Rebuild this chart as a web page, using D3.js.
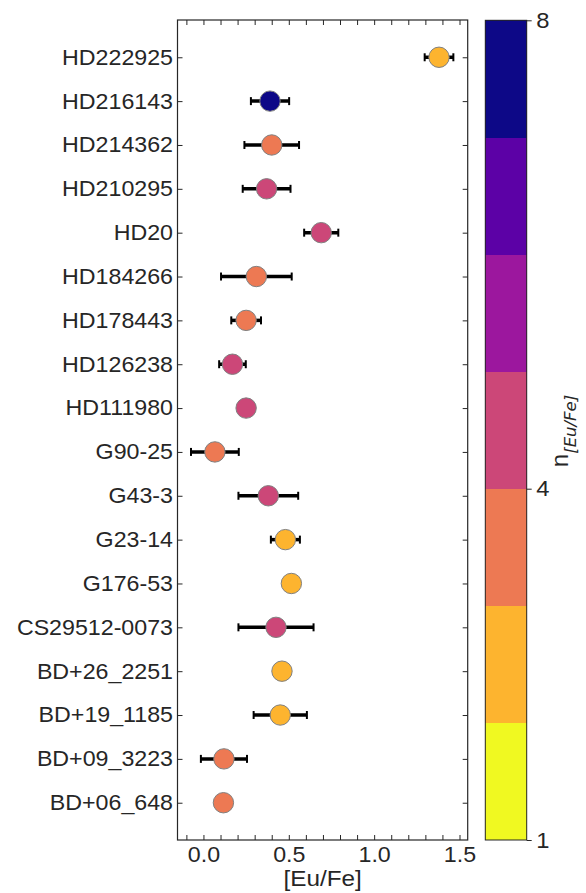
<!DOCTYPE html>
<html>
<head>
<meta charset="utf-8">
<script src="https://cdn.jsdelivr.net/npm/d3@7"></script>
<style>
  html, body { margin: 0; padding: 0; background: #fff; }
  svg { display: block; font-family: "Liberation Sans", Arial, sans-serif; }
</style>
</head>
<body>
<svg id="chart" width="586" height="893"></svg>
<script>
// ---------------- data ----------------
const stars = ["HD222925","HD216143","HD214362","HD210295","HD20","HD184266","HD178443","HD126238","HD111980","G90-25","G43-3","G23-14","G176-53","CS29512-0073","BD+26_2251","BD+19_1185","BD+09_3223","BD+06_648"];
const euFe  = [1.38, 0.39, 0.40, 0.37, 0.69, 0.31, 0.25, 0.17, 0.25, 0.067, 0.38, 0.48, 0.515, 0.425, 0.46, 0.45, 0.12, 0.117];
const euErr = [0.084, 0.112, 0.16, 0.14, 0.10, 0.207, 0.087, 0.078, 0, 0.14, 0.175, 0.085, 0, 0.22, 0, 0.156, 0.135, 0];
const nEu   = [2, 7, 3, 4, 4, 3, 3, 4, 4, 3, 4, 2, 2, 4, 2, 2, 3, 3];
const xTickValues = [-0.1,0.0,0.1,0.2,0.3,0.4,0.5,0.6,0.7,0.8,0.9,1.0,1.1,1.2,1.3,1.4,1.5];
const xTickLabels = [0.0, 0.5, 1.0, 1.5];
const cbarTicks = [1, 4, 8];
const cbarBounds = [1, 2, 3, 4, 5, 6, 7, 8];

// ---------------- style ----------------
// discrete plasma (reversed): band [k,k+1) -> colour
const palette = ["#f0f921","#fdb42f","#ed7953","#cc4778","#9c179e","#5c01a6","#0d0887"];
const ink = "#262626";
const stretchX = 1.08;

const svg = d3.select("#chart");
const plot = {left: 177.5, right: 467.7, top: 20, bottom: 840};
const cbar = {left: 485.3, right: 526.7, top: 20.3, bottom: 840};

const x = d3.scaleLinear().domain([-0.152, 1.548]).range([plot.left, plot.right]);
const y = d3.scaleLinear().domain([-0.85, stars.length - 1 + 0.85]).range([plot.top, plot.bottom]);
const cy = d3.scaleLinear().domain([1, 8]).range([cbar.bottom, cbar.top]);
const colorOf = n => palette[Math.min(Math.max(Math.floor(n) - 1, 0), palette.length - 1)];

function stretch(sel) {
  sel.each(function() {
    const t = d3.select(this);
    const tx = +t.attr("x") || 0;
    t.attr("x", 0).attr("transform", `translate(${tx},0) scale(${stretchX},1)`);
  });
}
function styleAxis(g, fs) {
  g.select(".domain").remove();
  g.selectAll(".tick line").attr("stroke", ink).attr("stroke-width", 1);
  g.selectAll(".tick text").attr("fill", ink).attr("font-size", fs)
    .attr("font-family", '"Liberation Sans", Arial, sans-serif');
}

// ---------------- axes ----------------
const idx = d3.range(stars.length);
const gL = svg.append("g").attr("transform", `translate(${plot.left},0)`)
  .call(d3.axisLeft(y).tickValues(idx).tickFormat(i => stars[i]).tickSize(-5).tickPadding(4.5));
styleAxis(gL, 21.5); stretch(gL.selectAll(".tick text"));

const gR = svg.append("g").attr("transform", `translate(${plot.right},0)`)
  .call(d3.axisRight(y).tickValues(idx).tickFormat("").tickSize(-5));
styleAxis(gR, 0);

const fmtX = v => xTickLabels.some(t => Math.abs(t - v) < 1e-9) ? d3.format(".1f")(v) : "";
const gB = svg.append("g").attr("transform", `translate(0,${plot.bottom})`)
  .call(d3.axisBottom(x).tickValues(xTickValues).tickFormat(fmtX).tickSize(-5).tickPadding(7));
styleAxis(gB, 21.5); stretch(gB.selectAll(".tick text"));

const gT = svg.append("g").attr("transform", `translate(0,${plot.top})`)
  .call(d3.axisTop(x).tickValues(xTickValues).tickFormat("").tickSize(-5));
styleAxis(gT, 0);

// ---------------- error bars ----------------
const rows = idx.map(i => ({name: stars[i], v: euFe[i], e: euErr[i], n: nEu[i], i}));
const eb = svg.append("g");
rows.filter(d => d.e > 0).forEach(d => {
  eb.append("line").attr("x1", x(d.v - d.e)).attr("x2", x(d.v + d.e))
    .attr("y1", y(d.i)).attr("y2", y(d.i)).attr("stroke", "#000").attr("stroke-width", 3.5);
  [d.v - d.e, d.v + d.e].forEach(c => {
    eb.append("line").attr("x1", x(c)).attr("x2", x(c))
      .attr("y1", y(d.i) - 4).attr("y2", y(d.i) + 4).attr("stroke", "#000").attr("stroke-width", 2);
  });
});

// ---------------- points ----------------
svg.append("g").selectAll("circle").data(rows).join("circle")
  .attr("cx", d => x(d.v)).attr("cy", d => y(d.i)).attr("r", 10.2)
  .attr("fill", d => colorOf(d.n)).attr("stroke", "#808080").attr("stroke-width", 1);

// ---------------- frame ----------------
svg.append("rect").attr("x", plot.left).attr("y", plot.top)
  .attr("width", plot.right - plot.left).attr("height", plot.bottom - plot.top)
  .attr("fill", "none").attr("stroke", ink).attr("stroke-width", 1.2);

// x label
svg.append("text").attr("transform", `translate(${(plot.left + plot.right) / 2},886) scale(${stretchX},1)`)
  .attr("text-anchor", "middle").attr("font-size", 22.5).attr("fill", ink).text("[Eu/Fe]");

// ---------------- colorbar ----------------
const bands = cbarBounds.slice(0, -1).map((b, k) => ({lo: b, hi: cbarBounds[k + 1]}));
svg.append("g").selectAll("rect").data(bands).join("rect")
  .attr("x", cbar.left).attr("width", cbar.right - cbar.left)
  .attr("y", d => cy(d.hi)).attr("height", d => cy(d.lo) - cy(d.hi) + 0.3)
  .attr("fill", d => colorOf(d.lo)).attr("shape-rendering", "crispEdges");
svg.append("rect").attr("x", cbar.left).attr("y", cbar.top)
  .attr("width", cbar.right - cbar.left).attr("height", cbar.bottom - cbar.top)
  .attr("fill", "none").attr("stroke", ink).attr("stroke-width", 1);

const gC = svg.append("g").attr("transform", `translate(${cbar.right},0)`)
  .call(d3.axisRight(cy).tickValues(cbarTicks).tickFormat(d3.format("d")).tickSize(5).tickPadding(4.5));
styleAxis(gC, 22); stretch(gC.selectAll(".tick text"));

// colorbar label  n_[Eu/Fe]
const lab = svg.append("text").attr("transform", "translate(568,431) rotate(-90)")
  .attr("text-anchor", "middle").attr("fill", ink);
lab.append("tspan").attr("font-size", 24).text("n");
lab.append("tspan").attr("font-size", 16.5).attr("font-style", "italic")
  .attr("font-family", '"DejaVu Sans", sans-serif').attr("dy", 8).text("[Eu/Fe]");
</script>
</body>
</html>
